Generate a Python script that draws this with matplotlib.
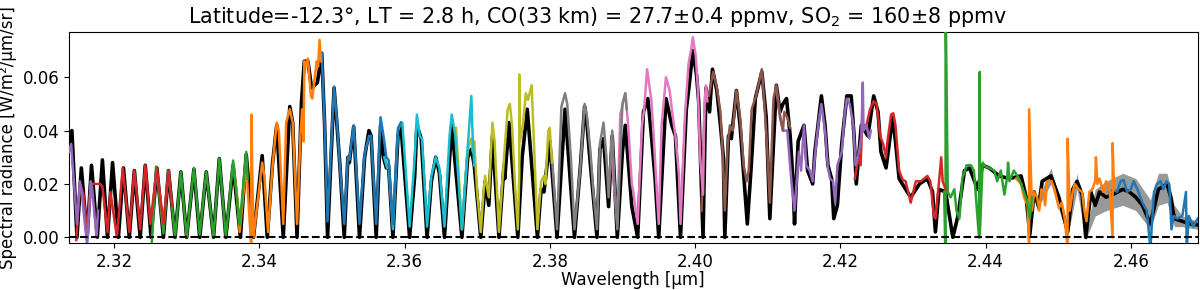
import matplotlib
matplotlib.use('Agg')
import matplotlib.pyplot as plt

black_wl = [2.3138, 2.3142, 2.3149, 2.3155, 2.3163, 2.3169, 2.3177, 2.3184, 2.3191, 2.3198,
            2.3206, 2.3213, 2.3221, 2.3228, 2.3236, 2.3243, 2.3251, 2.3259, 2.3268, 2.3275,
            2.3284, 2.3292, 2.3300, 2.3310, 2.3318, 2.3327, 2.3337, 2.3345, 2.3354, 2.3364,
            2.3374, 2.3382, 2.3392, 2.3404, 2.3411, 2.3418, 2.3424, 2.3433, 2.3442, 2.3446,
            2.3452, 2.3458, 2.3462, 2.3467, 2.3472, 2.3480, 2.3486, 2.3490, 2.3494, 2.3503,
            2.3507, 2.3511, 2.3517, 2.3522, 2.3524, 2.3530, 2.3538, 2.3545, 2.3551, 2.3554,
            2.3561, 2.3567, 2.3571, 2.3575, 2.3578, 2.3584, 2.3591, 2.3595, 2.3607, 2.3614,
            2.3617, 2.3623, 2.3631, 2.3637, 2.3643, 2.3648, 2.3655, 2.3665, 2.3679, 2.3687,
            2.3692, 2.3696, 2.3705, 2.3710, 2.3711, 2.3716, 2.3721, 2.3730, 2.3737, 2.3738,
            2.3744, 2.3756, 2.3762, 2.3769, 2.3783, 2.3788, 2.3792, 2.3800, 2.3810, 2.3821,
            2.3827, 2.3834, 2.3842, 2.3848, 2.3851, 2.3856, 2.3860, 2.3865, 2.3869, 2.3874,
            2.3881, 2.3886, 2.3893, 2.3900, 2.3904, 2.3913, 2.3921, 2.3929, 2.3935, 2.3940,
            2.3945, 2.3950, 2.3960, 2.3968, 2.3973, 2.3980, 2.3988, 2.3992, 2.3997, 2.4002,
            2.4005, 2.4011, 2.4015, 2.4020, 2.4024, 2.4030, 2.4035, 2.4039, 2.4041, 2.4046,
            2.4050, 2.4057, 2.4062, 2.4072, 2.4077, 2.4083, 2.4092, 2.4098, 2.4103, 2.4112,
            2.4117, 2.4121, 2.4126, 2.4131, 2.4135, 2.4137, 2.4142, 2.4150, 2.4155, 2.4162,
            2.4165, 2.4174, 2.4179, 2.4183, 2.4188, 2.4191, 2.4196, 2.4202, 2.4209, 2.4215,
            2.4219, 2.4222, 2.4229, 2.4238, 2.4246, 2.4252, 2.4256, 2.4263, 2.4265, 2.4272,
            2.4276, 2.4281, 2.4290, 2.4297, 2.4309, 2.4320, 2.4327, 2.4331, 2.4336, 2.4345,
            2.4355, 2.4362, 2.4371, 2.4378, 2.4389, 2.4396, 2.4405, 2.4419, 2.4432, 2.4449,
            2.4456, 2.4461, 2.4467, 2.4473, 2.4478, 2.4490, 2.4501, 2.4513, 2.4520, 2.4526,
            2.4533, 2.4538, 2.4545, 2.4551, 2.4557, 2.4566, 2.4575, 2.4589, 2.4598, 2.4607,
            2.4616, 2.4627, 2.4638, 2.4650, 2.4655, 2.4660, 2.4671, 2.4682, 2.4693]
black_rad = [0.033, 0.040, 0.000, 0.026, 0.000, 0.027, 0.000, 0.029, 0.000, 0.028,
             0.000, 0.026, 0.000, 0.025, 0.000, 0.027, 0.000, 0.026, 0.000, 0.025,
             0.000, 0.0245, 0.000, 0.0255, 0.000, 0.0245, 0.000, 0.0295, 0.000, 0.027,
             0.000, 0.031, 0.000, 0.0306, 0.000, 0.027, 0.042, 0.000, 0.049, 0.043,
             0.000, 0.050, 0.066, 0.066, 0.056, 0.058, 0.069, 0.042, 0.000, 0.056,
             0.042, 0.027, 0.000, 0.030, 0.028, 0.0415, 0.000, 0.030, 0.040, 0.038,
             0.000, 0.042, 0.030, 0.026, 0.027, 0.000, 0.038, 0.042, 0.000, 0.023,
             0.042, 0.037, 0.000, 0.021, 0.030, 0.024, 0.000, 0.042, 0.000, 0.030,
             0.033, 0.027, 0.000, 0.017, 0.021, 0.012, 0.038, 0.000, 0.027, 0.022,
             0.043, 0.000, 0.030, 0.048, 0.000, 0.018, 0.017, 0.036, 0.000, 0.048,
             0.026, 0.000, 0.026, 0.049, 0.043, 0.027, 0.015, 0.000, 0.033, 0.037,
             0.0115, 0.038, 0.000, 0.032, 0.042, 0.0115, 0.000, 0.047, 0.052, 0.038,
             0.022, 0.000, 0.052, 0.042, 0.038, 0.000, 0.048, 0.057, 0.070, 0.061,
             0.051, 0.000, 0.056, 0.047, 0.063, 0.055, 0.042, 0.030, 0.000, 0.038,
             0.037, 0.055, 0.042, 0.005, 0.025, 0.052, 0.062, 0.045, 0.007, 0.057,
             0.047, 0.050, 0.052, 0.038, 0.021, 0.005, 0.036, 0.042, 0.025, 0.020,
             0.032, 0.053, 0.042, 0.027, 0.022, 0.007, 0.012, 0.035, 0.053, 0.053,
             0.038, 0.020, 0.042, 0.038, 0.053, 0.047, 0.032, 0.026, 0.030, 0.045,
             0.036, 0.022, 0.018, 0.015, 0.020, 0.022, 0.017, 0.002, 0.018, 0.017,
             0.000, 0.008, 0.025, 0.026, 0.018, 0.027, 0.026, 0.023, 0.022, 0.023,
             0.015, 0.001, 0.017, 0.0115, 0.021, 0.023, 0.015, 0.002, 0.018, 0.021,
             0.016, 0.000, 0.017, 0.012, 0.017, 0.015, 0.016, 0.018, 0.017, 0.015,
             0.012, 0.005, 0.018, 0.020, 0.015, 0.007, 0.006, 0.005, 0.0046]

# uncertainty envelope of the observation at the long-wavelength end
band_wl = [2.4470, 2.4490, 2.4513, 2.4526, 2.4538, 2.4551, 2.4566, 2.4589, 2.4607,
           2.4627, 2.4638, 2.4650, 2.4660, 2.4671, 2.4693]
band_lo = [0.010, 0.020, 0.000, 0.018, -0.001, 0.008, 0.010, 0.012, 0.010,
           0.003, 0.012, 0.013, 0.004, 0.004, 0.003]
band_hi = [0.013, 0.026, 0.004, 0.024, 0.002, 0.018, 0.021, 0.024, 0.022,
           0.014, 0.024, 0.024, 0.012, 0.008, 0.006]

# model spectra, one per diffraction order (right to left)
o1_wl = [2.4570, 2.4577, 2.4581, 2.4586, 2.4590, 2.4595, 2.4600, 2.4604, 2.4609, 2.4616,
         2.4622, 2.4627, 2.4632, 2.4636, 2.4641, 2.4645, 2.4649, 2.4653, 2.4656, 2.4659,
         2.4664, 2.4671, 2.4676, 2.4677, 2.4680, 2.4686, 2.4692]
o1_rad = [0.017, 0.018, 0.017, 0.021, 0.0215, 0.017, 0.018, 0.021, 0.018, 0.013,
          0.010, -0.004, 0.017, 0.020, 0.021, 0.018, 0.021, 0.020, 0.003, 0.008,
          0.007, 0.008, 0.017, -0.004, 0.008, 0.004, 0.007]

o2_wl = [2.4442, 2.4449, 2.4453, 2.4458, 2.4460, 2.4460, 2.4464, 2.4467, 2.4471, 2.4474,
         2.4477, 2.4480, 2.4482, 2.4485, 2.4491, 2.4495, 2.4501, 2.4505, 2.4509, 2.4513,
         2.4513, 2.4516, 2.4520, 2.4523, 2.4528, 2.4533, 2.4536, 2.4539, 2.4543, 2.4547,
         2.4551, 2.4552, 2.4554, 2.4557, 2.4562, 2.4566, 2.4571, 2.4575, 2.4575, 2.4577]
o2_rad = [0.022, 0.020, 0.015, 0.012, -0.004, 0.048, 0.010, 0.017, 0.015, 0.010,
          0.018, 0.017, 0.012, 0.021, 0.021, 0.018, 0.011, 0.013, 0.007, -0.004,
          0.037, 0.010, 0.017, 0.020, 0.018, 0.017, 0.010, 0.006, 0.017, 0.018,
          0.021, 0.030, 0.020, 0.022, 0.017, 0.021, 0.017, 0.000, 0.0353, 0.018]

o3_wl = [2.4343, 2.4345, 2.4345, 2.4348, 2.4352, 2.4357, 2.4360, 2.4364, 2.4368, 2.4374,
         2.4380, 2.4384, 2.4391, 2.4392, 2.4392, 2.4396, 2.4400, 2.4405, 2.4412, 2.4416,
         2.4421, 2.4426, 2.4430, 2.4431, 2.4433, 2.4439, 2.4446, 2.4453, 2.4458, 2.4461,
         2.4464]
o3_rad = [0.017, -0.010, 0.090, 0.017, 0.015, 0.018, 0.010, 0.007, 0.022, 0.027,
          0.027, 0.025, 0.000, 0.062, 0.000, 0.028, 0.0265, 0.026, 0.025, 0.021,
          0.025, 0.016, 0.023, 0.028, 0.021, 0.025, 0.022, 0.017, 0.013, 0.007,
          0.015]

o4_wl = [2.4220, 2.4225, 2.4228, 2.4230, 2.4236, 2.4241, 2.4246, 2.4250, 2.4255, 2.4259,
         2.4263, 2.4265, 2.4270, 2.4273, 2.4276, 2.4281, 2.4286, 2.4290, 2.4297, 2.4304,
         2.4311, 2.4320, 2.4324, 2.4329, 2.4331, 2.4336, 2.4339, 2.4341, 2.4345]
o4_rad = [0.022, 0.030, 0.027, 0.042, 0.042, 0.048, 0.051, 0.050, 0.038, 0.035,
          0.030, 0.036, 0.046, 0.0465, 0.042, 0.025, 0.0215, 0.021, 0.013, 0.021,
          0.021, 0.023, 0.021, 0.008, 0.007, 0.021, 0.030, 0.021, 0.018]

o5_wl = [2.4112, 2.4117, 2.4121, 2.4127, 2.4133, 2.4137, 2.4143, 2.4146, 2.4150, 2.4153,
         2.4158, 2.4162, 2.4166, 2.4170, 2.4174, 2.4179, 2.4183, 2.4186, 2.4190, 2.4193,
         2.4196, 2.4202, 2.4206, 2.4209, 2.4213, 2.4218, 2.4221, 2.4226, 2.4229, 2.4231,
         2.4232, 2.4236, 2.4240, 2.4242]
o5_rad = [0.055, 0.046, 0.040, 0.040, 0.020, 0.010, 0.032, 0.025, 0.042, 0.027,
          0.025, 0.021, 0.033, 0.043, 0.050, 0.040, 0.026, 0.022, 0.021, 0.013,
          0.027, 0.032, 0.046, 0.052, 0.050, 0.042, 0.027, 0.032, 0.038, 0.058,
          0.040, 0.042, 0.037, 0.040]

o6_wl = [2.4009, 2.4013, 2.4016, 2.4019, 2.4025, 2.4030, 2.4035, 2.4038, 2.4041, 2.4045,
         2.4048, 2.4052, 2.4057, 2.4062, 2.4067, 2.4071, 2.4074, 2.4078, 2.4084, 2.4092,
         2.4096, 2.4099, 2.4103, 2.4108, 2.4112, 2.4117, 2.4121, 2.4123, 2.4127, 2.4131]
o6_rad = [0.010, 0.048, 0.055, 0.053, 0.062, 0.056, 0.047, 0.032, 0.010, 0.035,
          0.042, 0.040, 0.055, 0.045, 0.027, 0.021, 0.025, 0.048, 0.053, 0.063,
          0.048, 0.035, 0.013, 0.052, 0.057, 0.045, 0.040, 0.047, 0.045, 0.041]

o7_wl = [2.3884, 2.3888, 2.3893, 2.3897, 2.3904, 2.3908, 2.3913, 2.3915, 2.3921, 2.3927,
         2.3930, 2.3934, 2.3937, 2.3940, 2.3943, 2.3950, 2.3954, 2.3960, 2.3965, 2.3969,
         2.3973, 2.3978, 2.3980, 2.3986, 2.3991, 2.3995, 2.3997, 2.4001, 2.4004, 2.4007,
         2.4011, 2.4013, 2.4015, 2.4017]
o7_rad = [0.036, 0.021, 0.005, 0.046, 0.054, 0.042, 0.020, 0.017, 0.005, 0.042,
          0.048, 0.063, 0.057, 0.051, 0.038, 0.005, 0.042, 0.060, 0.055, 0.046,
          0.038, 0.023, 0.005, 0.045, 0.065, 0.071, 0.075, 0.068, 0.055, 0.030,
          0.016, 0.050, 0.057, 0.051]

o8_wl = [2.3803, 2.3810, 2.3816, 2.3821, 2.3824, 2.3829, 2.3834, 2.3842, 2.3848, 2.3851,
         2.3856, 2.3860, 2.3865, 2.3869, 2.3874, 2.3878, 2.3881, 2.3886, 2.3889, 2.3893,
         2.3900, 2.3904, 2.3906]
o8_rad = [0.030, 0.003, 0.049, 0.054, 0.050, 0.030, 0.003, 0.026, 0.050, 0.046,
          0.032, 0.017, 0.003, 0.035, 0.043, 0.030, 0.015, 0.040, 0.020, 0.003,
          0.050, 0.054, 0.048]

o9_wl = [2.3671, 2.3676, 2.3679, 2.3687, 2.3692, 2.3694, 2.3696, 2.3700, 2.3705, 2.3709,
         2.3711, 2.3716, 2.3721, 2.3724, 2.3730, 2.3737, 2.3742, 2.3745, 2.3748, 2.3752,
         2.3756, 2.3758, 2.3758, 2.3759, 2.3763, 2.3767, 2.3770, 2.3775, 2.3779, 2.3783,
         2.3788, 2.3792, 2.3794, 2.3798, 2.3800, 2.3803]
o9_rad = [0.041, 0.017, 0.003, 0.033, 0.037, 0.032, 0.036, 0.017, 0.002, 0.018,
          0.023, 0.015, 0.043, 0.036, 0.002, 0.030, 0.048, 0.050, 0.042, 0.020,
          0.003, 0.023, 0.061, 0.036, 0.042, 0.054, 0.0515, 0.057, 0.030, 0.003,
          0.021, 0.023, 0.020, 0.040, 0.041, 0.028]

o10_wl = [2.3572, 2.3576, 2.3578, 2.3584, 2.3591, 2.3595, 2.3597, 2.3607, 2.3614, 2.3617,
          2.3621, 2.3624, 2.3631, 2.3637, 2.3643, 2.3648, 2.3655, 2.3662, 2.3665, 2.3670,
          2.3679, 2.3686, 2.3692, 2.3694, 2.3696]
o10_rad = [0.030, 0.026, 0.027, 0.003, 0.040, 0.043, 0.043, 0.004, 0.030, 0.046,
           0.038, 0.037, 0.004, 0.023, 0.030, 0.026, 0.004, 0.038, 0.046, 0.038,
           0.003, 0.030, 0.053, 0.036, 0.027]

o11_wl = [2.3483, 2.3486, 2.3490, 2.3494, 2.3503, 2.3507, 2.3511, 2.3517, 2.3522, 2.3524,
          2.3530, 2.3538, 2.3545, 2.3551, 2.3554, 2.3561, 2.3567, 2.3571, 2.3575, 2.3578,
          2.3584, 2.3591, 2.3595]
o11_rad = [0.069, 0.069, 0.042, 0.006, 0.0565, 0.043, 0.027, 0.005, 0.030, 0.029,
           0.042, 0.005, 0.031, 0.038, 0.038, 0.005, 0.045, 0.038, 0.030, 0.029,
           0.005, 0.041, 0.043]

o12_wl = [2.3364, 2.3369, 2.3373, 2.3382, 2.3387, 2.3389, 2.3389, 2.3392, 2.3404, 2.3407,
          2.3412, 2.3418, 2.3424, 2.3427, 2.3433, 2.3437, 2.3442, 2.3446, 2.3452, 2.3457,
          2.3459, 2.3461, 2.3462, 2.3465, 2.3467, 2.3471, 2.3473, 2.3479, 2.3481, 2.3483,
          2.3485]
o12_rad = [0.027, 0.017, 0.002, 0.027, 0.005, -0.004, 0.046, 0.000, 0.028, 0.023,
           0.002, 0.026, 0.043, 0.040, 0.005, 0.043, 0.048, 0.043, 0.005, 0.040,
           0.048, 0.036, 0.066, 0.064, 0.067, 0.053, 0.052, 0.066, 0.064, 0.074,
           0.066]

o13_wl = [2.3252, 2.3258, 2.3268, 2.3275, 2.3284, 2.3292, 2.3300, 2.3310, 2.3318, 2.3327,
          2.3337, 2.3345, 2.3354, 2.3364, 2.3373, 2.3382, 2.3384]
o13_rad = [-0.002, 0.0265, 0.0015, 0.025, 0.000, 0.0245, 0.000, 0.026, 0.001, 0.0245,
           0.000, 0.0296, 0.000, 0.0288, 0.0045, 0.032, 0.022]

o14_wl = [2.3148, 2.3153, 2.3158, 2.3163, 2.3168, 2.3172, 2.3181, 2.3184, 2.3191, 2.3195,
          2.3204, 2.3212, 2.3221, 2.3228, 2.3236, 2.3243, 2.3250, 2.3259, 2.3268, 2.3275,
          2.3280]
o14_rad = [-0.001, 0.020, 0.016, 0.002, 0.020, 0.020, 0.020, 0.019, 0.002, 0.017,
           0.000, 0.026, 0.002, 0.025, 0.003, 0.027, 0.005, 0.026, 0.005, 0.025,
           0.012]

o15_wl = [2.3138, 2.3141, 2.3149, 2.3153, 2.3155, 2.3163, 2.3168, 2.3170, 2.3176, 2.3178]
o15_rad = [0.032, 0.035, 0.005, 0.021, 0.018, -0.003, 0.021, 0.018, 0.000, 0.010]

orders = [(o1_wl, o1_rad), (o2_wl, o2_rad), (o3_wl, o3_rad), (o4_wl, o4_rad),
          (o5_wl, o5_rad), (o6_wl, o6_rad), (o7_wl, o7_rad), (o8_wl, o8_rad),
          (o9_wl, o9_rad), (o10_wl, o10_rad), (o11_wl, o11_rad), (o12_wl, o12_rad),
          (o13_wl, o13_rad), (o14_wl, o14_rad), (o15_wl, o15_rad)]

fig = plt.figure(figsize=(12, 2.9), dpi=100)
ax = fig.add_axes([0.0575, 0.161, 0.9405, 0.730])

ax.fill_between(band_wl, band_lo, band_hi, color='0.6', lw=0, zorder=1)
ax.plot(black_wl, black_rad, color='k', lw=2.6, zorder=2)
for wl, rad in orders:
    ax.plot(wl, rad, lw=1.8, zorder=3)
ax.axhline(0, color='k', ls='--', lw=1.5, zorder=4)

ax.set_xlim(2.3138, 2.4692)
ax.set_ylim(-0.00225, 0.0771)
ax.set_yticks([0.0, 0.02, 0.04, 0.06])
ax.set_xticks([2.32, 2.34, 2.36, 2.38, 2.40, 2.42, 2.44, 2.46])
ax.tick_params(labelsize=12)
ax.set_xlabel('Wavelength [µm]', fontsize=12, labelpad=0)
ax.set_ylabel('Spectral radiance [W/m²/µm/sr]', fontsize=12, labelpad=4)
ax.set_title('Latitude=-12.3°, LT = 2.8 h, CO(33 km) = 27.7±0.4 ppmv, SO$_2$ = 160±8 ppmv',
             fontsize=14.9, x=0.4686)

fig.savefig('out.png', dpi=100)
